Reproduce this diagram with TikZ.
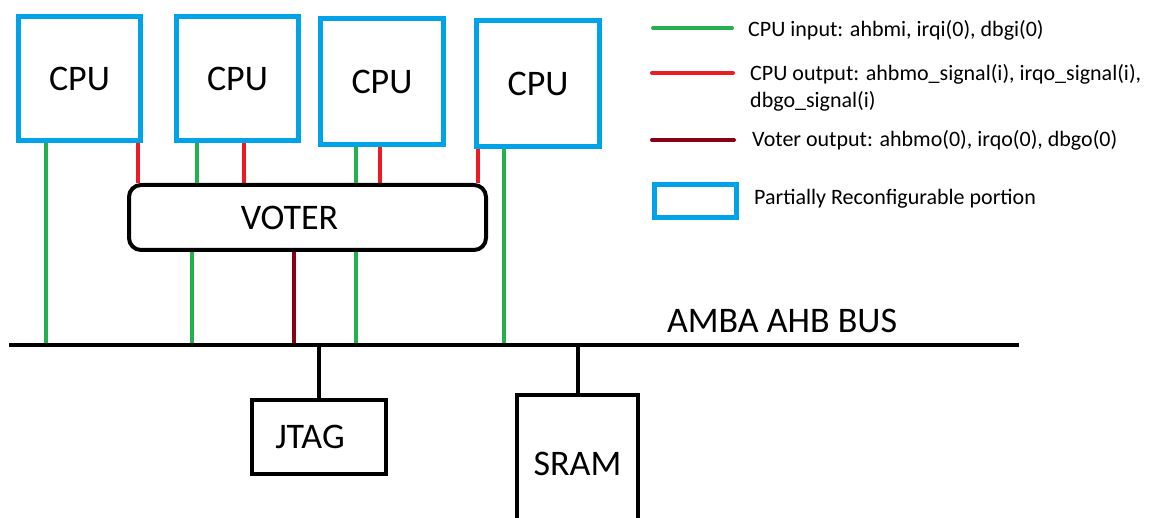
\documentclass[tikz,border=0pt]{standalone}
\usepackage{fontspec}
\setmainfont{Carlito}
\usetikzlibrary{positioning}
\definecolor{PaintBlue}{HTML}{00A2E8}
\definecolor{PaintGreen}{HTML}{22B14C}
\definecolor{PaintRed}{HTML}{ED1C24}
\definecolor{PaintMaroon}{HTML}{880015}

\begin{document}
\begin{tikzpicture}[
    x=1pt,y=-1pt,
    bigtext/.style={font=\fontsize{36}{42}\selectfont},
    keytext/.style={font=\fontsize{22}{27}\selectfont,inner sep=0pt,align=left},
    cpu/.style={draw=PaintBlue,line width=5pt,minimum width=122pt,minimum height=124pt,bigtext},
    block/.style={draw,line width=4pt,inner sep=0pt},
    voterbox/.style={block,rounded corners=12pt,minimum width=357pt,minimum height=65pt},
    cpuin/.style={PaintGreen,line width=3.5pt},
    cpuout/.style={PaintRed,line width=3.5pt},
    voterout/.style={PaintMaroon,line width=3.5pt},
    wire/.style={line width=4pt}
  ]
    \useasboundingbox (0,0) rectangle (1153,518);

    \node[cpu] (cpu1) at (79.5,78.5) {CPU};
    \node[cpu] (cpu2) at (237.5,78.5) {CPU};
    \node[cpu,minimum width=123pt,minimum height=126pt] (cpu3) at (382,81.5) {CPU};
    \node[cpu,minimum width=123pt,minimum height=126pt] (cpu4) at (538,83.5) {CPU};
    \node[voterbox,label={[bigtext,xshift=-18pt]center:VOTER}] (voter) at (307.5,217.5) {};
    \node[block,minimum width=134pt,minimum height=74pt,label={[bigtext,xshift=-9pt]center:JTAG}] (jtag) at (319,437) {};
    \node[block,minimum width=121pt,minimum height=138pt,bigtext] (sram) at (577.5,464) {SRAM};

    \coordinate (busW) at (9,345);
    \coordinate (busE) at (1019,345);
    \node[bigtext,anchor=base] (busname) at (782,332) {AMBA AHB BUS};

    \draw[cpuin] ([xshift=-33.5pt]cpu1.south) -- ([xshift=-33.5pt]cpu1.south |- busW);
    \draw[cpuout] ([xshift=58.5pt]cpu1.south) -- ([xshift=58.5pt]cpu1.south |- voter.north);
    \draw[cpuin] ([xshift=-40.5pt]cpu2.south) -- ([xshift=-40.5pt]cpu2.south |- voter.north);
    \draw[cpuout] ([xshift=6.5pt]cpu2.south) -- ([xshift=6.5pt]cpu2.south |- voter.north);
    \draw[cpuin] ([xshift=-26pt]cpu3.south) -- ([xshift=-26pt]cpu3.south |- voter.north);
    \draw[cpuout] ([xshift=-2pt]cpu3.south) -- ([xshift=-2pt]cpu3.south |- voter.north);
    \draw[cpuout] ([xshift=-60pt]cpu4.south) -- ([xshift=-60pt]cpu4.south |- voter.north);
    \draw[cpuin] ([xshift=-34pt]cpu4.south) -- ([xshift=-34pt]cpu4.south |- busW);

    \draw[cpuin] ([xshift=-115.5pt]voter.south) -- ([xshift=-115.5pt]voter.south |- busW);
    \draw[voterout] ([xshift=-13.5pt]voter.south) -- ([xshift=-13.5pt]voter.south |- busW);
    \draw[cpuin] ([xshift=48.5pt]voter.south) -- ([xshift=48.5pt]voter.south |- busW);

    \draw[wire] (busW) -- (busE);
    \draw[wire] (jtag.north) -- (jtag.north |- busW);
    \draw[wire] (sram.north) -- (sram.north |- busW);

    \coordinate (swin) at (653,28);
    \coordinate (swout) at (652,73);
    \coordinate (swvoter) at (652,140);
    \draw[cpuin,line width=4pt,line cap=round] (swin) -- ++(79,0);
    \draw[cpuout,line width=4pt,line cap=round] (swout) -- ++(81,0);
    \draw[voterout,line width=4pt,line cap=round] (swvoter) -- ++(82,0);
    \node[draw=PaintBlue,line width=5pt,minimum width=82pt,minimum height=33pt] (keybox) at (695.5,201) {};

    \node[keytext,anchor=base west] (keyin) at (748,37) {CPU input: ahbmi, irqi(0), dbgi(0)};
    \node[keytext,anchor=base west] (keyout) at (750,108) {CPU output: ahbmo\_signal(i), irqo\_signal(i),\\dbgo\_signal(i)};
    \node[keytext,anchor=base west] (keyvoter) at (752,147) {Voter output: ahbmo(0), irqo(0), dbgo(0)};
    \node[keytext,anchor=base west] (keypr) at (754,205) {Partially Reconfigurable portion};
\end{tikzpicture}
\end{document}
